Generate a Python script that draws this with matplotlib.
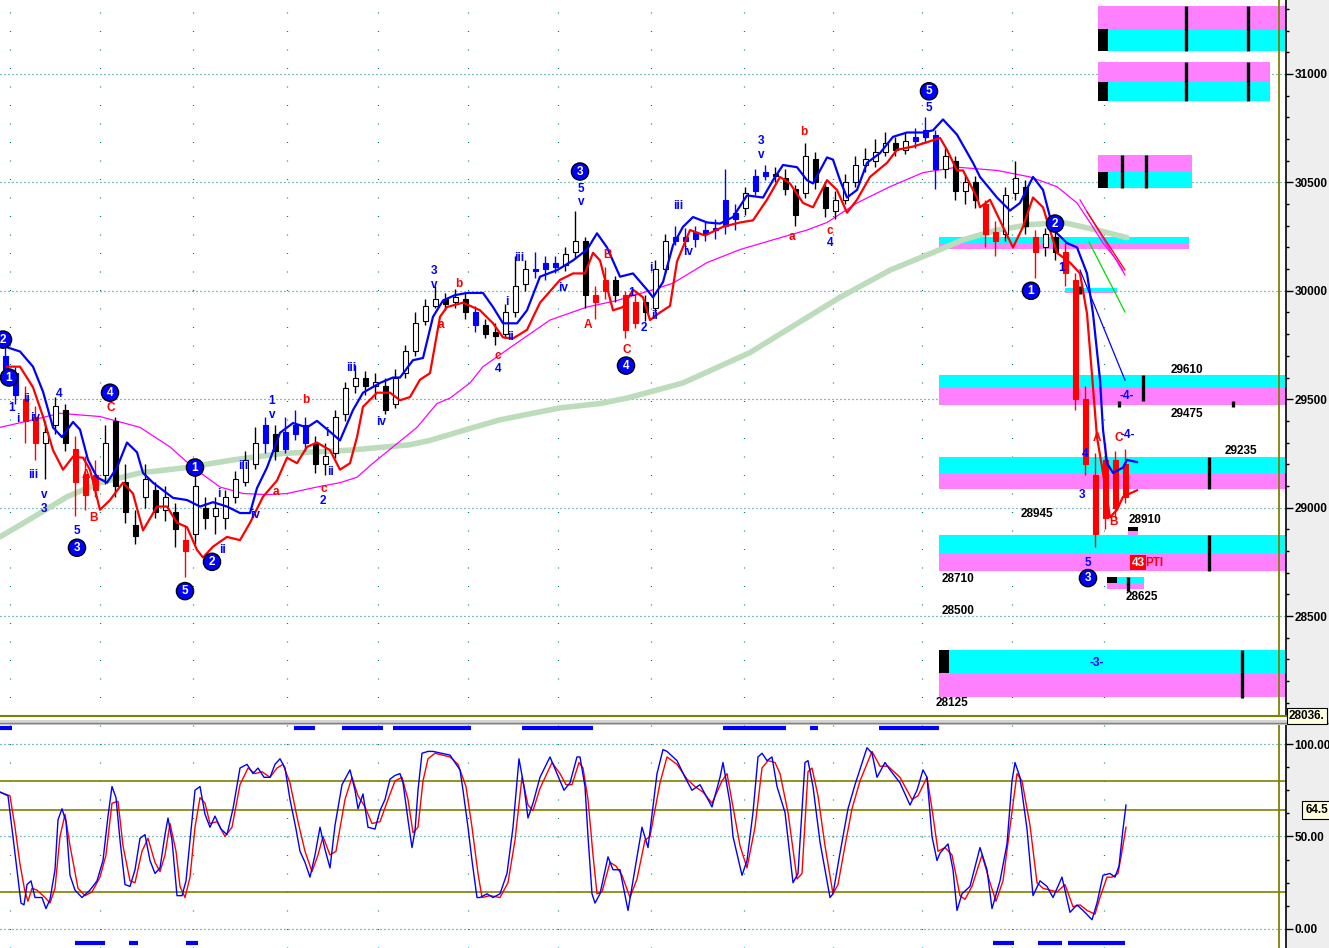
import matplotlib
matplotlib.use("Agg")
import matplotlib.pyplot as plt
from matplotlib.patches import Rectangle
from matplotlib.ticker import MultipleLocator
import numpy as np

plt.rcParams['font.family'] = ['Liberation Sans', 'DejaVu Sans']

# ---------------- DATA ----------------
opens = [29700,29620,29500,29420,29300,29380,29450,29270,29150,29080,
         29150,29400,29120,28920,29050,29080,28990,28980,28850,28880,
         29000,28960,28950,29050,29120,29200,29300,29340,29270,29340,
         29380,29300,29200,29250,29430,29560,29600,29560,29560,29480,
         29620,29720,29860,29930,29960,29950,29960,29900,29840,29810,
         29800,29900,30030,30100,30100,30130,30120,30180,30230,29950,
         30000,30050,29980,29850,29950,29920,30100,30230,30250,30240,
         30260,30280,30300,30330,30380,30460,30530,30540,30520,30470,
         30450,30610,30480,30370,30420,30500,30580,30600,30640,30680,
         30650,30690,30710,30720,30560,30600,30460,30500,30400,30270,
         30260,30450,30480,30250,30200,30250,30180,30050,29500,29150,
         28950,29220,29050]
highs = [29760,29650,29560,29470,29400,29510,29480,29330,29240,29220,
         29380,29420,29200,28990,29200,29120,29100,29020,28920,29200,
         29050,29050,29080,29170,29260,29370,29420,29380,29420,29450,
         29420,29330,29300,29450,29580,29660,29630,29620,29600,29640,
         29750,29900,29960,30020,29990,30010,29990,29930,29870,29850,
         29940,30160,30140,30180,30160,30160,30200,30370,30250,30020,
         30110,30070,30000,29990,29980,30140,30260,30300,30290,30300,
         30320,30330,30560,30400,30480,30560,30580,30570,30560,30490,
         30680,30640,30500,30460,30540,30620,30660,30700,30730,30710,
         30730,30750,30800,30740,30660,30620,30540,30530,30420,30320,
         30480,30600,30510,30280,30290,30290,30220,30080,29560,29250,
         29300,29260,29270]
lows = [29600,29480,29300,29220,29130,29340,29260,28960,28990,29050,
        29110,29050,28930,28830,29000,28950,28940,28820,28680,28830,
        28900,28880,28900,29020,29100,29180,29250,29220,29250,29310,
        29260,29160,29150,29230,29400,29530,29520,29500,29430,29460,
        29600,29700,29840,29920,29910,29920,29870,29810,29780,29750,
        29780,29880,30000,30060,30050,30080,30090,30150,29920,29870,
        29960,29950,29780,29830,29860,29900,30080,30210,30190,30200,
        30230,30240,30260,30280,30350,30440,30510,30500,30440,30300,
        30430,30470,30340,30330,30400,30480,30550,30570,30620,30620,
        30630,30660,30680,30470,30520,30420,30400,30380,30200,30160,
        30230,30420,30260,30060,30160,30140,30020,29450,29150,28820,
        28900,28950,29020]
closes = [29640,29520,29400,29300,29350,29470,29300,29120,29060,29150,
          29300,29100,28980,28870,29130,28980,29050,28900,28800,29100,
          28950,29000,29050,29130,29220,29300,29380,29260,29350,29380,
          29300,29200,29240,29420,29550,29600,29560,29580,29450,29600,
          29720,29850,29930,29960,29940,29970,29900,29840,29800,29790,
          29900,30020,30100,30090,30130,30110,30170,30230,29980,29980,
          30050,29980,29820,29950,29900,30100,30230,30250,30230,30270,
          30280,30290,30420,30360,30450,30530,30550,30530,30470,30350,
          30620,30500,30380,30420,30500,30580,30610,30640,30680,30650,
          30690,30710,30740,30560,30620,30460,30500,30420,30260,30230,
          30440,30520,30300,30180,30260,30180,30080,29500,29200,28880,
          29220,29000,29200]
# bar colouring runs: b = blue, r = red, k = black/white
bar_color_runs = [("b",2),("r",2),("k",3),("r",3),("k",8),("r",1),("k",7),("b",1),("k",1),
                  ("b",3),("k",16),("b",1),("k",5),("b",3),("k",3),("r",2),("k",1),("r",2),
                  ("k",3),("b",7),("k",1),("b",2),("k",14),("b",3),("k",4),("r",2),("k",3),
                  ("r",1),("k",2),("r",7)]

blue_ma = [(0.0,29750),(2.0,29720),(3.3,29650),(4.3,29535),(5.3,29370),(6.2,29325),(7.3,29395),(8.0,29360),
           (8.8,29220),(9.7,29140),(10.7,29115),(11.7,29185),(12.7,29300),(13.7,29255),(14.3,29160),(15.3,29115),
           (16.3,29080),(17.3,29045),(18.7,29035),(20.0,29005),(21.3,29025),(22.7,29005),(24.0,28975),(25.0,28975),
           (25.7,29090),(26.7,29185),(28.0,29345),(29.3,29390),(30.7,29370),(31.7,29400),(33.0,29350),(34.0,29310),
           (35.3,29450),(36.3,29530),(38.0,29575),(39.3,29600),(40.0,29600),(41.3,29680),(42.3,29690),(43.3,29880),
           (44.3,29955),(45.5,29980),(46.7,29990),(48.3,29990),(49.3,29925),(50.3,29850),(51.7,29850),(52.7,29910),
           (54.0,30065),(55.7,30095),(57.3,30140),(58.7,30190),(59.7,30265),(60.7,30200),(62.0,30065),(63.3,30080),
           (64.7,30005),(65.3,29970),(66.3,30040),(67.3,30210),(68.3,30295),(69.3,30340),(70.7,30315),(72.0,30310),
           (73.3,30340),(74.7,30440),(76.3,30430),(77.3,30510),(78.3,30580),(79.7,30570),(80.7,30510),(81.3,30495),
           (82.7,30615),(83.3,30605),(84.0,30510),(84.7,30430),(85.7,30465),(86.7,30590),(88.0,30635),(89.3,30710),
           (90.7,30730),(92.3,30730),(93.3,30740),(94.3,30790),(95.7,30720),(97.3,30590),(98.0,30525),(99.7,30430),
           (101.0,30370),(102.0,30405),(103.3,30525),(104.3,30465),(105.0,30340),(105.7,30265),(106.7,30220),
           (107.7,30200),(108.7,30080),(109.3,29895),(110.0,29590),(110.3,29360),(110.7,29205),(111.3,29160),
           (112.3,29185),(112.7,29220),(113.7,29210)]
red_ma = [(0.7,29650),(2.0,29650),(3.3,29555),(4.3,29420),(5.3,29265),(6.3,29175),(7.3,29235),(8.3,29230),
          (9.0,29175),(10.0,28990),(11.0,29035),(12.3,29115),(13.3,29065),(14.3,28895),(15.7,29005),(16.7,29005),
          (17.7,28930),(18.7,28910),(19.7,28805),(20.3,28770),(21.3,28820),(22.7,28865),(24.0,28850),(25.0,28930),
          (26.3,29050),(27.7,29125),(28.7,29230),(29.7,29205),(30.7,29280),(31.7,29300),(33.0,29265),(34.0,29175),
          (35.0,29205),(35.7,29325),(36.3,29465),(37.7,29530),(39.0,29530),(40.0,29495),(41.0,29510),(42.0,29590),
          (43.0,29620),(44.0,29880),(44.7,29925),(46.3,29945),(48.0,29910),(49.3,29850),(50.3,29785),(51.3,29780),
          (52.7,29820),(54.0,29945),(56.0,30050),(57.3,30080),(58.5,30080),(59.3,30175),(60.0,30140),(61.3,29910),
          (62.3,29925),(63.3,30005),(64.3,29970),(65.0,29865),(66.0,29900),(67.0,29930),(67.7,30135),(69.0,30280),
          (70.5,30255),(72.3,30295),(74.0,30315),(75.3,30325),(76.7,30420),(78.0,30525),(79.0,30495),(80.3,30405),
          (81.3,30385),(82.7,30510),(83.7,30465),(84.7,30360),(85.7,30420),(87.0,30525),(88.7,30590),(89.7,30650),
          (91.3,30665),(92.7,30685),(94.0,30705),(94.7,30650),(95.7,30555),(96.3,30555),(97.7,30430),(98.0,30385),
          (99.0,30420),(100.3,30295),(101.3,30200),(102.3,30295),(103.3,30430),(104.3,30385),(105.0,30280),
          (105.7,30175),(107.0,30130),(108.0,30080),(108.7,29895),(109.3,29555),(109.7,29325),(110.3,29160),
          (111.0,28955),(111.7,28990),(112.3,29050),(113.7,29080)]
magenta_ma = [(0.0,29370),(3.3,29405),(6.0,29435),(10.0,29420),(14.0,29370),(17.0,29280),(19.3,29185),(22.0,29095),
              (24.3,29065),(26.7,29060),(28.7,29065),(31.7,29095),(34.0,29115),(35.7,29140),(37.3,29205),(39.3,29280),
              (41.7,29370),(43.7,29480),(45.0,29505),(47.0,29575),(48.3,29650),(51.7,29760),(55.0,29865),(58.7,29925),
              (61.7,29955),(65.3,30005),(67.3,30035),(70.7,30130),(74.0,30190),(77.3,30235),(80.7,30280),(82.7,30315),
              (85.7,30405),(89.0,30480),(92.3,30545),(95.7,30570),(99.7,30555),(103.0,30525),(105.7,30480),
              (107.7,30405),(109.0,30315),(110.3,30220),(111.7,30140),(112.3,30095)]
green_ma = [(0.0,28865),(3.3,28955),(6.7,29050),(10.0,29115),(14.0,29160),(18.7,29185),(23.3,29220),(28.3,29250),
            (35.0,29265),(41.0,29290),(43.0,29310),(47.0,29365),(50.0,29405),(56.0,29460),(60.0,29480),(62.7,29505),
            (68.3,29575),(75.0,29715),(78.7,29820),(84.0,29970),(89.0,30095),(94.0,30190),(96.3,30235),(99.7,30280),
            (103.0,30305),(106.3,30315),(109.7,30280),(112.7,30245)]
# projection lines: (t0, p0, t1, p1, colour)
projections = [(108.0,30096,112.5,29588,"#0000ff"),(108.9,30225,112.5,29902,"#00dd00"),
               (108.0,30419,112.5,30073,"#ff00ff"),(108.7,30364,112.5,30096,"#ff0000")]

# target zones: (t_start, t_end, top, mid, bottom, upper colour, lower colour)
zones = [(109.8,128.6,31313,31207,31106,"m","c"),(109.8,127.0,31055,30963,30875,"m","c"),
         (109.8,119.2,30626,30548,30474,"m","c"),(93.9,118.9,30248,30220,30193,"c","m"),
         (106.5,111.7,30013,30001,29990,"c","m"),(93.9,128.6,29610,29550,29475,"c","m"),
         (93.9,128.6,29235,29160,29085,"c","m"),(93.9,128.6,28875,28790,28710,"c","m"),
         (110.7,114.4,28680,28652,28625,"c","m"),(112.8,113.8,28910,28892,28874,"k","m"),
         (93.9,128.6,28345,28235,28125,"c","m")]
zone_blocks = [(109.8,110.8,31106,31207),(109.8,110.8,30875,30963),(109.8,110.8,30474,30548),
               (93.9,94.9,28235,28345),(110.7,111.7,28652,28680)]
zone_marks = [(118.6,31106,31313),(124.8,31106,31313),(118.6,30875,31055),(124.8,30875,31055),
              (112.2,30474,30626),(114.6,30474,30626),(108.0,29985,30020),(114.3,29490,29610),
              (111.9,29465,29490),(123.3,29465,29490),(120.9,29085,29235),(120.9,28710,28875),
              (112.8,28615,28680),(124.2,28120,28345)]
zone_values = [("29610",118.7,29635),("29475",118.7,29432),("29235",124.1,29260),("28945",103.7,28970),
               ("28910",114.5,28945),("28710",95.8,28670),("28625",114.2,28590),("28500",95.8,28525),
               ("28125",95.2,28100)]

wave_circled = [("2",0.3,29775),("1",0.9,29600),("3",7.7,28815),("4",11.0,29530),("5",18.5,28615),
                ("1",19.5,29185),("2",21.2,28750),("3",58.0,30550),("4",62.6,29655),("5",92.9,30920),
                ("1",103.1,30000),("2",105.5,30310),("3",108.8,28675)]
wave_blue = [("1",1.2,29460),("ii",2.7,29500),("i",1.8,29410),("iv",3.5,29415),("iii",3.3,29150),
             ("v",4.4,29060),("3",4.4,28995),("4",5.9,29525),("5",7.7,28890),("i",21.9,29065),
             ("ii",22.2,28805),("iii",24.3,29190),("iv",25.5,28965),("1",27.2,29490),("v",27.2,29425),
             ("i",32.7,29345),("ii",33.0,29165),("2",32.3,29030),("iii",35.1,29645),("iv",38.1,29395),
             ("3",43.4,30090),("v",43.4,30025),("iii",51.9,30150),("i",50.7,29950),("ii",51.0,29785),
             ("4",49.8,29640),("iv",56.3,30015),("5",58.1,30470),("v",58.1,30410),("1",63.2,29990),
             ("2",64.4,29830),("ii",65.4,29885),("i",65.1,30105),("iii",67.8,30390),("iv",68.8,30180),
             ("3",76.1,30690),("v",76.1,30625),("4",83.0,30220),("5",92.9,30845),("1",106.2,30105),
             ("4",108.5,29245),("3",108.2,29060),("5",108.8,28745),("-4-",112.8,29335),("-4-",112.7,29515),
             ("-3-",109.7,28285)]
wave_red = [("A",8.6,29150),("B",9.3,28950),("C",11.1,29460),("b",30.6,29495),("a",27.6,29070),
            ("c",32.4,29085),("a",44.1,29840),("b",45.9,30030),("c",49.8,29700),("A",58.8,29840),
            ("B",60.8,30165),("C",62.7,29725),("a",79.2,30250),("b",80.4,30730),("c",83.0,30275),
            ("A",109.7,29320),("C",111.9,29320),("B",111.3,28935)]

stoch_k = [(0,74),(0.8,72),(1.2,54),(1.7,32),(2.1,14),(2.4,13),(2.7,24),(3.1,26),(3.5,17),(4.2,17),(4.6,11),
           (5.0,16),(5.5,32),(5.8,59),(6.2,65),(6.6,58),(7.0,29),(7.5,21),(8.2,17),(9.0,21),(9.7,26),(10.3,37),
           (10.8,61),(11.2,77),(11.6,71),(12.0,48),(12.5,24),(13.0,23),(13.5,32),(14.0,49),(14.5,51),(15.0,37),
           (15.5,30),(16.0,33),(16.5,51),(16.8,60),(17.2,48),(17.7,18),(18.2,18),(18.6,26),(19.0,48),(19.5,75),
           (20.0,77),(20.5,62),(21.0,55),(21.5,61),(22.1,54),(22.7,51),(23.3,65),(24.0,87),(24.7,89),(25.3,84),
           (25.8,87),(26.4,82),(27.0,82),(27.5,89),(28.0,92),(28.5,87),(29.0,70),(29.6,54),(30.0,42),(30.5,36),
           (31.0,28),(31.5,40),(32.0,55),(32.5,43),(33.0,33),(33.5,56),(34.2,78),(35.0,86),(35.5,75),(35.8,65),
           (36.3,73),(36.8,55),(37.5,54),(38.0,64),(38.5,70),(39.0,81),(39.5,83),(40.0,84),(40.3,79),(40.8,59),
           (41.2,44),(41.5,53),(41.8,75),(42.2,95),(42.8,96),(43.3,96),(45.0,94),(45.5,90),(46.0,86),(46.3,75),
           (46.8,55),(47.2,37),(47.7,17),(48.0,17),(48.7,19),(49.3,17),(50.0,19),(50.7,30),(51.3,55),(51.9,92),
           (52.4,77),(52.8,60),(53.3,68),(54.0,82),(55.0,93),(55.7,84),(56.4,75),(57.0,79),(57.7,93),(58.0,93),
           (58.5,77),(58.8,50),(59.2,19),(59.5,14),(60.0,19),(60.8,39),(61.3,32),(62.0,32),(62.8,10),(63.3,26),
           (64.2,55),(64.8,44),(65.7,84),(66.3,97),(66.7,96),(67.7,91),(68.5,82),(69.2,75),(70.0,78),(70.7,71),
           (71.2,66),(72.0,82),(72.3,90),(73.0,68),(73.3,50),(74.2,29),(74.7,37),(75.3,63),(75.8,93),(76.2,95),
           (76.7,91),(77.2,93),(77.7,77),(78.5,63),(79.3,25),(79.8,30),(80.5,90),(80.8,91),(81.3,77),(82.0,47),
           (83.0,17),(83.3,19),(84.0,41),(84.8,65),(85.5,78),(86.7,98),(87.2,95),(87.7,82),(88.5,90),(89.0,86),
           (90.0,79),(91.0,67),(91.7,75),(92.3,86),(92.7,82),(93.2,50),(93.7,37),(94.0,41),(94.8,46),(95.3,32),
           (95.7,10),(96.2,19),(97.0,23),(98.0,44),(98.7,32),(99.2,11),(100.0,26),(100.7,46),(101.2,80),
           (101.5,90),(102.0,82),(102.7,54),(103.3,18),(104.0,26),(104.7,23),(105.3,17),(106.2,28),(107.0,9),
           (107.7,13),(108.3,10),(109.2,5),(109.7,14),(110.3,29),(111.0,30),(111.5,28),(111.9,34),(112.3,54),
           (112.6,67)]
stoch_d = [(0,74),(1.0,72),(1.5,55),(2.0,35),(2.5,20),(2.8,15),(3.2,22),(3.7,21),(4.5,17),(5.0,14),(5.5,22),
           (6.0,50),(6.5,62),(7.0,45),(7.8,22),(8.5,18),(9.2,20),(10.0,28),(10.6,40),(11.2,68),(11.8,69),
           (12.3,45),(13.0,26),(13.5,25),(14.2,42),(14.8,49),(15.5,36),(16.0,31),(16.5,40),(17.0,57),(17.6,42),
           (18.0,23),(18.5,17),(19.0,28),(19.5,55),(20.0,71),(20.5,68),(21.0,57),(21.7,58),(22.5,50),(23.2,55),
           (24.0,78),(24.8,87),(25.5,84),(26.2,85),(27.0,82),(27.7,87),(28.3,89),(29.0,79),(29.8,58),(30.5,42),
           (31.2,31),(31.8,40),(32.3,50),(33.0,40),(33.6,42),(34.5,70),(35.2,82),(35.8,72),(36.5,66),(37.2,57),
           (38.0,58),(38.8,70),(39.5,80),(40.2,82),(40.8,70),(41.3,52),(41.8,55),(42.3,80),(42.8,92),(43.5,95),
           (45.0,93),(45.8,89),(46.6,77),(47.2,55),(47.8,30),(48.2,17),(49.0,18),(50.0,17),(50.8,25),(51.5,48),
           (52.2,82),(52.8,67),(53.3,64),(54.0,76),(55.2,90),(56.0,84),(56.6,78),(57.2,78),(57.9,90),(58.3,87),
           (58.8,70),(59.3,40),(59.7,19),(60.2,20),(61.0,36),(61.6,34),(62.2,29),(63.0,17),(63.7,27),(64.5,48),
           (65.0,50),(66.0,79),(66.7,93),(67.7,89),(68.7,81),(69.5,77),(70.3,74),(71.2,68),(72.2,80),(72.7,84),
           (73.3,66),(74.0,45),(74.7,33),(75.5,55),(76.2,87),(76.8,91),(77.5,90),(78.0,84),(78.8,63),(79.7,27),
           (80.2,30),(80.8,85),(81.2,87),(81.8,72),(82.5,45),(83.3,19),(83.8,24),(84.5,45),(85.2,65),(86.0,80),
           (87.2,96),(88.0,88),(88.8,88),(90.0,82),(91.2,70),(91.8,72),(92.7,82),(93.2,65),(93.8,42),(94.5,44),
           (95.2,40),(96.0,18),(96.5,16),(97.2,23),(98.2,40),(99.0,25),(99.6,15),(100.3,26),(101.0,55),(101.7,84),
           (102.2,80),(103.0,56),(103.7,25),(104.3,22),(105.0,21),(105.7,20),(106.5,24),(107.3,12),(108.0,13),
           (108.7,10),(109.5,8),(110.0,17),(110.7,28),(111.2,28),(111.8,30),(112.2,42),(112.6,55)]
signal_top = [(0.0,1.2),(29.4,31.5),(34.2,38.3),(39.3,47.1),(52.2,59.3),(72.3,78.6),(81.0,81.8),(87.9,93.9)]
signal_bottom = [(7.5,10.5),(12.9,13.8),(18.6,19.8),(99.3,101.4),(103.8,106.2),(106.8,112.5)]
osc_levels = [80, 64.5, 20]
osc_last = "64.5"
price_ticks = [28500, 29000, 29500, 30000, 30500, 31000]
osc_ticks = [0, 50, 100]
grid_times = [1.0,10.0,19.3,28.7,37.8,46.8,55.8,65.1,74.4,83.3,92.2,101.2,110.4]

# ---------------- FIGURE ----------------
W, H = 1329, 948
fig = plt.figure(figsize=(W/100, H/100), dpi=100)
fig.patch.set_facecolor('white')
fig.patches.append(Rectangle((1287/W, 0), (W-1287)/W, 1, transform=fig.transFigure,
                             facecolor='#eeeeee', edgecolor='none', zorder=-5))

ax = fig.add_axes([0, 232/H, 1286/W, 716/H])
ax2 = fig.add_axes([0, 0, 1286/W, 226/H])
XMAX = 128.6
TEAL = '#008080'
OLIVE = '#808000'
CYAN = '#00ffff'
MAG = '#ff80ff'
cmap = {"c": CYAN, "m": MAG, "k": "black"}

for a in (ax, ax2):
    a.set_xlim(0, XMAX)
    a.set_xticks([])
    a.spines['top'].set_visible(False)
    a.spines['left'].set_visible(False)
    a.spines['right'].set_color('black')
    a.spines['right'].set_linewidth(1.2)
    a.yaxis.tick_right()
    a.tick_params(axis='y', which='major', direction='out', length=5, width=1, pad=1,
                  labelsize=8.5, colors='black')
    a.tick_params(axis='y', which='minor', direction='out', length=2, width=1)
    for gt in grid_times:
        a.axvline(gt, color=TEAL, lw=0.9, ls=(0, (0.8, 14)), zorder=1)
    a.axvline(127.9, color=OLIVE, lw=1.3, zorder=2)

ax.set_ylim(28039, 31341)
ax.spines['bottom'].set_color(OLIVE)
ax.spines['bottom'].set_linewidth(1.5)
ax.set_yticks(price_ticks)
ax.set_yticklabels([str(v) for v in price_ticks], fontweight='bold')
ax.yaxis.set_minor_locator(MultipleLocator(100))
for lv in price_ticks:
    ax.axhline(lv, color=TEAL, lw=0.9, ls=(0, (0.8, 2.4)), zorder=1)

# zones
for t0, t1, top, mid, bot, cu, cl in zones:
    ax.add_patch(Rectangle((t0, mid), t1 - t0, top - mid, facecolor=cmap[cu], edgecolor='none', zorder=1.5))
    ax.add_patch(Rectangle((t0, bot), t1 - t0, mid - bot, facecolor=cmap[cl], edgecolor='none', zorder=1.5))
for t0, t1, lo, hi in zone_blocks:
    ax.add_patch(Rectangle((t0, lo), t1 - t0, hi - lo, facecolor='black', edgecolor='none', zorder=1.6))
for tm, lo, hi in zone_marks:
    ax.vlines(tm, lo, hi, color='black', lw=2.4, zorder=1.7)
for s, tt, pp in zone_values:
    ax.text(tt, pp, s, fontsize=8.5, fontweight='bold', color='black', ha='center', va='center', zorder=8)

# moving averages
gx, gy = zip(*green_ma)
ax.plot(gx, gy, color='#bcdcbc', lw=4.0, solid_capstyle='round', zorder=2)
mx, my = zip(*magenta_ma)
ax.plot(mx, my, color='#ff00ff', lw=0.9, zorder=2.2)

# candles
bar_colors = "".join(c * n for c, n in bar_color_runs)
o = np.array(opens); h = np.array(highs); l = np.array(lows); c = np.array(closes)
n = len(o)
assert len(h) == n and len(l) == n and len(c) == n and len(bar_colors) == n
t = np.arange(n) + 0.5
wick_col, fill_col, edge_col = [], [], []
for i in range(n):
    code = bar_colors[i]
    if code == 'b':
        wick_col.append('#0000ff'); fill_col.append('#0000ff'); edge_col.append('#0000ff')
    elif code == 'r':
        wick_col.append('#ff0000'); fill_col.append('#ff0000'); edge_col.append('#ff0000')
    else:
        wick_col.append('black'); edge_col.append('black')
        fill_col.append('white' if c[i] >= o[i] else 'black')
ax.vlines(t, l, h, colors=wick_col, lw=1.0, zorder=3)
body_h = np.maximum(np.abs(c - o), 8)
ax.bar(t, body_h, bottom=np.minimum(o, c), width=0.5, color=fill_col, edgecolor=edge_col,
       linewidth=0.8, zorder=4)

bx, by = zip(*blue_ma)
ax.plot(bx, by, color='#0000ff', lw=1.6, zorder=5)
rx, ry = zip(*red_ma)
ax.plot(rx, ry, color='#ff0000', lw=1.6, zorder=5)
for t0, p0, t1, p1, col in projections:
    ax.plot([t0, t1], [p0, p1], color=col, lw=0.9, zorder=5)

# wave labels
for s, tt, pp in wave_blue:
    ax.text(tt, pp, s, fontsize=8.5, fontweight='bold', color='#0000ff', ha='center', va='center', zorder=6)
for s, tt, pp in wave_red:
    ax.text(tt, pp, s, fontsize=8.5, fontweight='bold', color='#ff0000', ha='center', va='center', zorder=6)
for s, tt, pp in wave_circled:
    ax.text(tt, pp, s, fontsize=8.5, fontweight='bold', color='white', ha='center', va='center', zorder=7,
            bbox=dict(boxstyle='circle,pad=0.22', fc='#0000ff', ec='black', lw=1.0))
ax.text(113.8, 28745, "43", fontsize=8.5, fontweight='bold', color='white', ha='center', va='center',
        zorder=7, bbox=dict(boxstyle='square,pad=0.12', fc='#ff0000', ec='none'))
ax.text(114.5, 28745, "PTI", fontsize=8.5, fontweight='bold', color='#ff0000', ha='left', va='center', zorder=7)

# ---------------- oscillator pane ----------------
ax2.set_ylim(-10.3, 111.9)
ax2.spines['bottom'].set_visible(False)
ax2.set_yticks(osc_ticks)
ax2.set_yticklabels(["%.2f" % v for v in osc_ticks], fontweight='bold')
ax2.yaxis.set_minor_locator(MultipleLocator(12.5))
for lv in osc_ticks:
    ax2.axhline(lv, color=TEAL, lw=0.9, ls=(0, (0.8, 2.4)), zorder=1)
for lv in osc_levels:
    ax2.axhline(lv, color=OLIVE, lw=1.2, zorder=2)
kx, ky = zip(*stoch_k)
dx, dy = zip(*stoch_d)
ax2.plot(dx, dy, color='#ff0000', lw=1.0, zorder=3)
ax2.plot(kx, ky, color='#0000ff', lw=1.0, zorder=4)
for t0, t1 in signal_top:
    ax2.plot([t0, t1], [108.6, 108.6], color='#0000ff', lw=3.0, solid_capstyle='butt', zorder=5)
for t0, t1 in signal_bottom:
    ax2.plot([t0, t1], [-7.6, -7.6], color='#0000ff', lw=3.0, solid_capstyle='butt', zorder=5)

# separator between panes
fig.patches.append(Rectangle((0, (948 - 725) / H), 1, 5 / H, transform=fig.transFigure,
                             facecolor='#d4d4d4', edgecolor='none', zorder=3))
fig.lines.append(plt.Line2D([0, 1], [(948 - 723) / H] * 2, transform=fig.transFigure,
                            color='#808080', lw=1.0, zorder=4))

# value boxes on the right axis
fig.text(1289 / W, (948 - 716) / H, "28036.", fontsize=8.5, fontweight='bold', ha='left', va='center',
         bbox=dict(boxstyle='square,pad=0.15', fc='#ffffe0', ec='black', lw=0.8), zorder=6)
fig.text(1328 / W, (948 - 810) / H, osc_last, fontsize=8.5, fontweight='bold', ha='right', va='center',
         bbox=dict(boxstyle='square,pad=0.25', fc='#ffffe0', ec='black', lw=0.8), zorder=6)

fig.savefig("out.png", dpi=100)
